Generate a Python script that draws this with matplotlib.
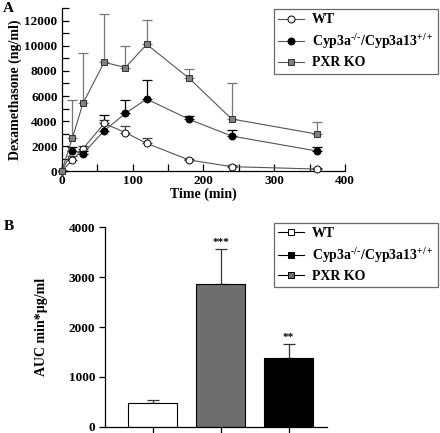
import matplotlib
matplotlib.use("Agg")
import matplotlib.pyplot as plt
import numpy as np
from matplotlib.lines import Line2D
from matplotlib.ticker import MultipleLocator

plt.rcParams['font.family'] = ['Liberation Serif', 'DejaVu Serif']
plt.rcParams['font.weight'] = 'bold'
plt.rcParams['mathtext.fontset'] = 'custom'
plt.rcParams['mathtext.rm'] = 'Liberation Serif:bold'
plt.rcParams['mathtext.bf'] = 'Liberation Serif:bold'
plt.rcParams['mathtext.default'] = 'bf'

# panel A: plasma concentration vs time
times = [0, 15, 30, 60, 90, 120, 180, 240, 360]
wt = [0, 900, 1800, 3820, 3080, 2230, 900, 370, 180]
wt_err = [0, 300, 200, 300, 500, 450, 100, 150, 80]
cyp = [0, 1650, 1400, 3240, 4620, 5760, 4140, 2810, 1620]
cyp_err = [0, 300, 200, 1250, 1050, 1550, 300, 480, 290]
pxr = [0, 2630, 5420, 8690, 8270, 10120, 7410, 4170, 2970]
pxr_err = [0, 3050, 4030, 3850, 1750, 1900, 750, 2850, 930]

# panel B: AUC
auc_groups = ['WT', 'PXR KO', 'Cyp3a']
auc = [470, 2870, 1370]
auc_err = [60, 700, 280]
auc_colors = ['white', '#6e6e6e', 'black']
auc_stars = ['', '***', '**']

names = ['WT', 'Cyp3a$^{\u2010/\u2010}$/Cyp3a13$^{+/+}$', 'PXR KO']

W, H = 440, 433
fig = plt.figure(figsize=(4.4, 4.33), dpi=100)

def box(l, r, t, b):
    return [l / W, 1 - b / H, (r - l) / W, (b - t) / H]

fs = 9.5
line_col = '#555555'

# ---------- A ----------
ax = fig.add_axes(box(61.7, 345, 8.2, 171.3))
series = [(wt, wt_err, 'o', 'white', 'black', '#444444'),
          (cyp, cyp_err, 'o', 'black', 'black', 'black'),
          (pxr, pxr_err, 's', '#808080', '#333333', '#777777')]
for vals, err, mk, fc, ec, errc in series:
    ax.errorbar(times, vals, yerr=[np.zeros(len(err)), err], fmt='none',
                ecolor=errc, elinewidth=0.9, capsize=3.5, capthick=0.9, zorder=2)
    ax.plot(times, vals, color=line_col, lw=0.8, marker=mk, ms=5,
            mfc=fc, mec=ec, mew=0.7, zorder=3, clip_on=False)

ax.set_xlim(0, 400)
ax.set_ylim(0, 13000)
ax.set_xticks([0, 100, 200, 300, 400])
ax.set_yticks(range(0, 12001, 2000))
ax.xaxis.set_minor_locator(MultipleLocator(50))
ax.yaxis.set_minor_locator(MultipleLocator(1000))
ax.tick_params(which='both', direction='in', length=5, width=0.9, labelsize=fs, pad=3)
for s in ['top', 'right']:
    ax.spines[s].set_visible(False)
for s in ['left', 'bottom']:
    ax.spines[s].set_linewidth(0.9)
ax.set_xlabel('Time (min)', fontsize=fs + 0.5, fontweight='bold', labelpad=0)
ax.set_ylabel('Dexamethasone (ng/ml)', fontsize=fs + 0.5, fontweight='bold', labelpad=2)

hA = [Line2D([], [], color=line_col, lw=0.8, marker=m, ms=5, mfc=fc, mec=ec, mew=0.7)
      for _, _, m, fc, ec, _ in series]
legA = ax.legend(hA, names, loc='upper right', bbox_to_anchor=(437.7 / W, 1 - 9.3 / H),
                 bbox_transform=fig.transFigure, fontsize=fs + 0.5, frameon=True,
                 fancybox=False, edgecolor='#444444', handlelength=1.9,
                 handletextpad=0.55, labelspacing=0.4, borderpad=0.3, borderaxespad=0)
legA.get_frame().set_linewidth(0.9)
fig.text(8 / W, 1 - 8 / H, 'A', fontsize=11, fontweight='bold', ha='center', va='center')

# ---------- B ----------
bx = fig.add_axes(box(105, 326.7, 227.3, 426.7))
xpos = np.arange(len(auc))
bx.bar(xpos, auc, width=0.71, color=auc_colors, edgecolor='black', linewidth=0.8, zorder=2)
bx.errorbar(xpos, auc, yerr=[np.zeros(len(auc)), auc_err], fmt='none', ecolor='#333333',
            elinewidth=0.9, capsize=4, capthick=0.9, zorder=1)
for x, v, e, st in zip(xpos, auc, auc_err, auc_stars):
    if st:
        bx.text(x, v + e + 40, st, ha='center', va='bottom', fontsize=8, fontweight='bold')
bx.set_xlim(-0.70, 2.56)
bx.set_ylim(0, 4000)
bx.set_yticks(range(0, 4001, 1000))
bx.set_xticks(xpos)
bx.set_xticklabels([])
bx.tick_params(direction='out', length=4, width=0.9, labelsize=fs, pad=3)
for s in ['top', 'right']:
    bx.spines[s].set_visible(False)
for s in ['left', 'bottom']:
    bx.spines[s].set_linewidth(0.9)
bx.set_ylabel('AUC min*\u00b5g/ml', fontsize=fs + 0.5, fontweight='bold', labelpad=15)

hB = [Line2D([], [], color='black', lw=0.8, marker='s', ms=5, mfc=c, mec='black', mew=0.7)
      for c in ['white', 'black', '#6e6e6e']]
legB = bx.legend(hB, names, loc='upper right', bbox_to_anchor=(437.7 / W, 1 - 223 / H),
                 bbox_transform=fig.transFigure, fontsize=fs + 0.5, frameon=True,
                 fancybox=False, edgecolor='#444444', handlelength=1.9,
                 handletextpad=0.55, labelspacing=0.4, borderpad=0.3, borderaxespad=0)
legB.get_frame().set_linewidth(0.9)
fig.text(9 / W, 1 - 226 / H, 'B', fontsize=11, ha='center', va='center')

fig.savefig('out.png', dpi=100)
